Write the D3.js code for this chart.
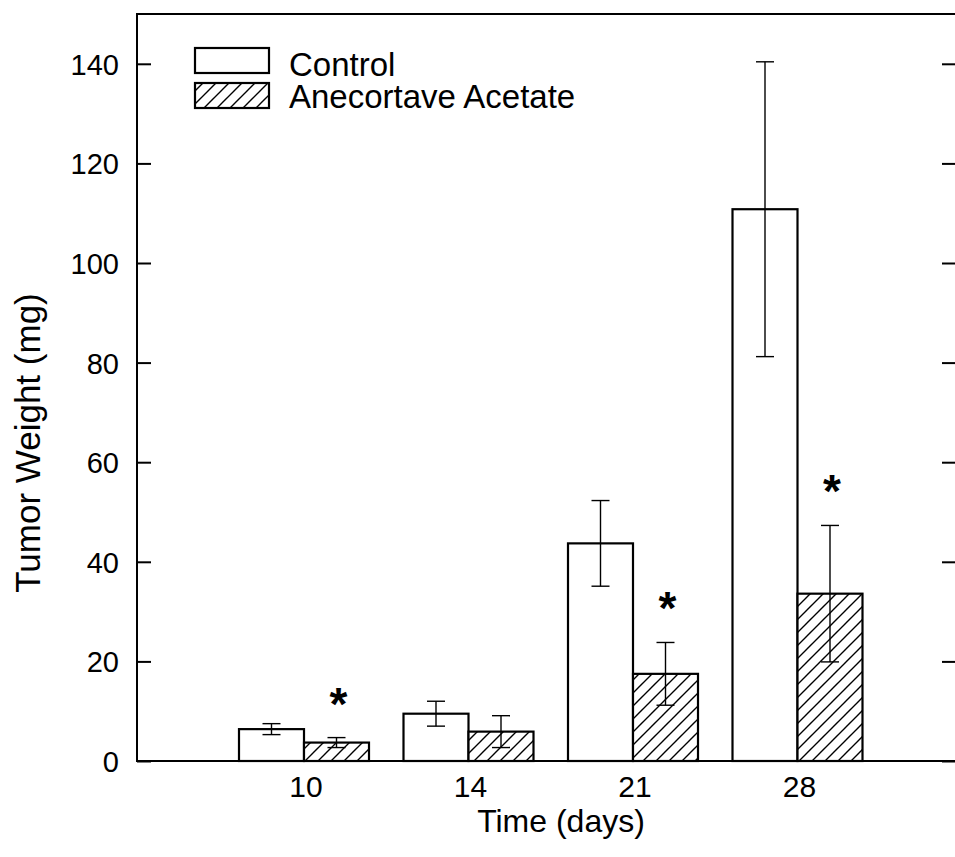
<!DOCTYPE html>
<html>
<head>
<meta charset="utf-8">
<script src="https://cdn.jsdelivr.net/npm/d3@7"></script>
<style>
  html, body { margin: 0; padding: 0; background: #fff; overflow: hidden; }
  svg { display: block; }
  text { font-family: "Liberation Sans", Arial, Helvetica, sans-serif; fill: #000; }
</style>
</head>
<body>
<svg id="chart" width="955" height="857"></svg>
<script>
// ---- data ----
const categories = ["10", "14", "21", "28"];
const controlMeans = [6.4, 9.5, 43.7, 110.8];
const controlErrors = [1.1, 2.5, 8.6, 29.6];
const treatedMeans = [3.7, 5.9, 17.5, 33.6];
const treatedErrors = [1.0, 3.2, 6.3, 13.7];
const significant = [true, false, true, true];
const yTicks = [0, 20, 40, 60, 80, 100, 120, 140];
const seriesNames = ["Control", "Anecortave Acetate"];

// ---- layout ----
const svg = d3.select("#chart");
const plotL = 137, plotR = 957, plotT = 14, plotB = 761;
const barW = 65;

const x = d3.scaleLinear().domain([0, categories.length + 1]).range([139.5, 962]);
const y = d3.scaleLinear().domain([0, 150]).range([plotB, plotT]);

// hatch pattern
const defs = svg.append("defs");
const pat = defs.append("pattern")
  .attr("id", "hatch").attr("patternUnits", "userSpaceOnUse")
  .attr("width", 13).attr("height", 13);
pat.append("rect").attr("width", 13).attr("height", 13).attr("fill", "#fff");
pat.append("path")
  .attr("d", "M-3,16 L16,-3 M-3,3 L3,-3 M10,16 L16,10")
  .attr("stroke", "#000").attr("stroke-width", 1.4);

// frame / axes
const yAxisL = d3.axisRight(y).tickValues(yTicks).tickSize(14).tickFormat("");
const gL = svg.append("g").attr("transform", `translate(${plotL},0)`).call(yAxisL);
gL.select(".domain").remove();
gL.selectAll("line").attr("stroke", "#000").attr("stroke-width", 2);

const yAxisR = d3.axisLeft(y).tickValues(yTicks).tickSize(15).tickFormat("");
const gR = svg.append("g").attr("transform", `translate(${plotR},0)`).call(yAxisR);
gR.select(".domain").remove();
gR.selectAll("line").attr("stroke", "#000").attr("stroke-width", 2);

const frame = svg.append("g").attr("stroke", "#000").attr("stroke-width", 2);
frame.append("line").attr("x1", plotL).attr("x2", plotL).attr("y1", plotT).attr("y2", plotB);
frame.append("line").attr("x1", plotL - 1).attr("x2", 955).attr("y1", plotT).attr("y2", plotT);
frame.append("line").attr("x1", plotL - 1).attr("x2", 955).attr("y1", plotB).attr("y2", plotB);

// y tick labels
svg.append("g").selectAll("text").data(yTicks).join("text")
  .attr("x", 119).attr("y", d => y(d) + 11)
  .attr("text-anchor", "end").attr("font-size", 29).text(d => d);

// x tick labels
svg.append("g").selectAll("text").data(categories).join("text")
  .attr("x", (d, i) => x(i + 1) + 2).attr("y", 797)
  .attr("text-anchor", "middle").attr("font-size", 30).text(d => d);

// axis titles
svg.append("text")
  .attr("x", 561).attr("y", 832)
  .attr("text-anchor", "middle").attr("font-size", 32).text("Time (days)");
svg.append("text")
  .attr("transform", `translate(40,443) rotate(-90)`)
  .attr("text-anchor", "middle").attr("font-size", 35).text("Tumor Weight (mg)");

// bars
const bars = svg.append("g");
const series = [
  { means: controlMeans, errs: controlErrors, offset: -barW, fill: "#fff" },
  { means: treatedMeans, errs: treatedErrors, offset: 0, fill: "url(#hatch)" }
];
series.forEach(s => {
  const g = bars.append("g");
  g.selectAll("rect").data(s.means).join("rect")
    .attr("x", (d, i) => x(i + 1) + s.offset)
    .attr("y", d => y(d))
    .attr("width", barW)
    .attr("height", d => y(0) - y(d))
    .attr("fill", s.fill).attr("stroke", "#000").attr("stroke-width", 2.2);
  const eg = g.append("g").attr("stroke", "#000").attr("stroke-width", 1.4);
  s.means.forEach((m, i) => {
    const cx = x(i + 1) + s.offset + barW / 2;
    const e = s.errs[i];
    eg.append("line").attr("x1", cx).attr("x2", cx).attr("y1", y(m + e)).attr("y2", y(m - e));
    eg.append("line").attr("x1", cx - 9).attr("x2", cx + 9).attr("y1", y(m + e)).attr("y2", y(m + e));
    eg.append("line").attr("x1", cx - 9).attr("x2", cx + 9).attr("y1", y(m - e)).attr("y2", y(m - e));
  });
});

// significance asterisks
svg.append("g").selectAll("text").data(treatedMeans.map((m, i) => ({ m, e: treatedErrors[i], i, s: significant[i] })).filter(d => d.s))
  .join("text")
  .attr("x", d => x(d.i + 1) + barW / 2 + 2)
  .attr("y", d => y(d.m + d.e) - 42 + 24)
  .attr("text-anchor", "middle").attr("font-size", 46).attr("font-weight", "bold").text("*");

// legend
const lg = svg.append("g");
seriesNames.forEach((name, i) => {
  lg.append("rect")
    .attr("x", 195).attr("y", 48 + i * 35).attr("width", 74).attr("height", 25)
    .attr("fill", i === 0 ? "#fff" : "url(#hatch)")
    .attr("stroke", "#000").attr("stroke-width", 2.2);
  lg.append("text")
    .attr("x", 289).attr("y", 76 + i * 32)
    .attr("font-size", 33).text(name);
});
</script>
</body>
</html>
